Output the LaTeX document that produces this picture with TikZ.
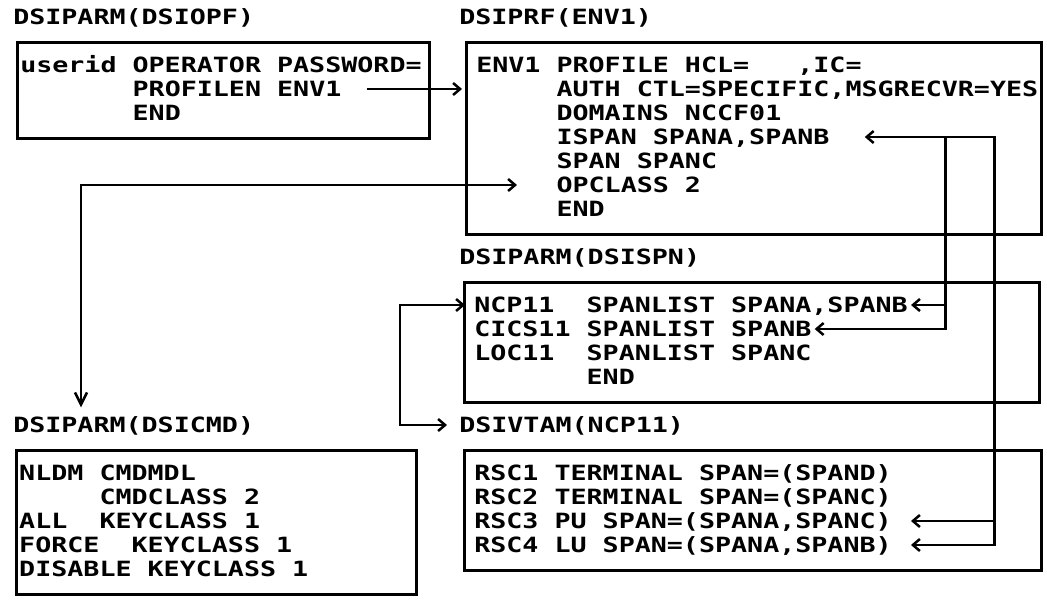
\documentclass[tikz,border=0pt]{standalone}
\usepackage{fontspec}
\usepackage{tikz}
\usetikzlibrary{arrows.meta,positioning,calc}
\newfontfamily\listfont{DejaVu Sans Mono}[FakeStretch=1.27]

\begin{document}
\begin{tikzpicture}[x=1pt, y=-1pt, line width=2.5pt,
  every node/.style={inner sep=0pt, anchor=base west, text height=15pt, text depth=0pt,
    font=\listfont\bfseries\fontsize{21}{24}\selectfont},
  frame/.style={draw, anchor=north west},
  barb/.style={-{Straight Barb[length=7pt,width=12pt]}},
  twobarb/.style={{Straight Barb[length=7pt,width=12pt]}-{Straight Barb[length=7pt,width=12pt]}},
  downbarb/.style={{Straight Barb[length=7pt,width=12pt]}-{Straight Barb[length=12pt,width=12pt]}}]

  \useasboundingbox (0,0) rectangle (1047,600);

  % DSIOPF
  \node (opf-title) at (12,24.5) {DSIPARM(DSIOPF)};
  \node[frame, minimum width=412, minimum height=96] (opf) at (16,41) {};
  \node (opf-1) at (19,72.5) {userid~OPERATOR~PASSWORD=};
  \node (opf-2) at (19,96.5) {~~~~~~~PROFILEN~ENV1};
  \node (opf-3) at (19,120.5) {~~~~~~~END};

  % DSIPRF
  \node (prf-title) at (458,24.5) {DSIPRF(ENV1)};
  \node[frame, minimum width=575, minimum height=192] (prf) at (465,41) {};
  \node (prf-1) at (475,72.5) {ENV1~PROFILE~HCL=~~~,IC=};
  \node (prf-2) at (475,96.5) {~~~~~AUTH~CTL=SPECIFIC,MSGRECVR=YES};
  \node (prf-3) at (475,120.5) {~~~~~DOMAINS~NCCF01};
  \node (prf-4) at (475,144.5) {~~~~~ISPAN~SPANA,SPANB};
  \node (prf-5) at (475,168.5) {~~~~~SPAN~SPANC};
  \node (prf-6) at (475,192.5) {~~~~~OPCLASS~2};
  \node (prf-7) at (475,216.5) {~~~~~END};

  % DSISPN
  \node (spn-title) at (458,264.5) {DSIPARM(DSISPN)};
  \node[frame, minimum width=575, minimum height=120] (spn) at (463,281) {};
  \node (spn-1) at (473,312.5) {NCP11~~SPANLIST~SPANA,SPANB};
  \node (spn-2) at (473,336.5) {CICS11~SPANLIST~SPANB};
  \node (spn-3) at (473,360.5) {LOC11~~SPANLIST~SPANC};
  \node (spn-4) at (473,384.5) {~~~~~~~END};

  % DSIVTAM
  \node (vtam-title) at (458,432.5) {DSIVTAM(NCP11)};
  \node[frame, minimum width=577, minimum height=120] (vtam) at (463,449) {};
  \node (vtam-1) at (473,480.5) {RSC1~TERMINAL~SPAN=(SPAND)};
  \node (vtam-2) at (473,504.5) {RSC2~TERMINAL~SPAN=(SPANC)};
  \node (vtam-3) at (473,528.5) {RSC3~PU~SPAN=(SPANA,SPANC)};
  \node (vtam-4) at (473,552.5) {RSC4~LU~SPAN=(SPANA,SPANB)};

  % DSICMD
  \node (cmd-title) at (12,432.5) {DSIPARM(DSICMD)};
  \node[frame, minimum width=400, minimum height=144] (cmd) at (15,449) {};
  \node (cmd-1) at (18,480.5) {NLDM~CMDMDL};
  \node (cmd-2) at (18,504.5) {~~~~~CMDCLASS~2};
  \node (cmd-3) at (18,528.5) {ALL~~KEYCLASS~1};
  \node (cmd-4) at (18,552.5) {FORCE~~KEYCLASS~1};
  \node (cmd-5) at (18,576.5) {DISABLE~KEYCLASS~1};

  % connectors
  \coordinate (trunk) at ($(spn.north east)+(-46,0)$);
  \coordinate (branch) at ($(spn.north east)+(-95,0)$);

  \draw[barb] ($(opf-2.east)+(24,0)$) -- ($(prf.west |- opf-2.east)+(-3,0)$);
  \draw[downbarb] ($(prf-6.west)+(42,0)$) -| ($(cmd-title.north west)+(69,-9)$);
  \draw[twobarb] ($(prf-4.east)+(34,0)$) -| (trunk |- vtam-4.east) -- ($(vtam-4.east)+(18,0)$);
  \draw[barb] (trunk |- vtam-3.east) -- ($(vtam-3.east)+(18,0)$);
  \draw[barb] (branch |- prf-4.east) |- ($(spn-2.east)+(2,0)$);
  \draw[barb] (branch |- spn-1.east) -- ($(spn-1.east)+(2,0)$);
  \draw[twobarb] ($(spn-1.west)+(-8,0)$) -- ++(-65,0) |- ($(vtam-title.west)+(-11,0)$);
\end{tikzpicture}
\end{document}
